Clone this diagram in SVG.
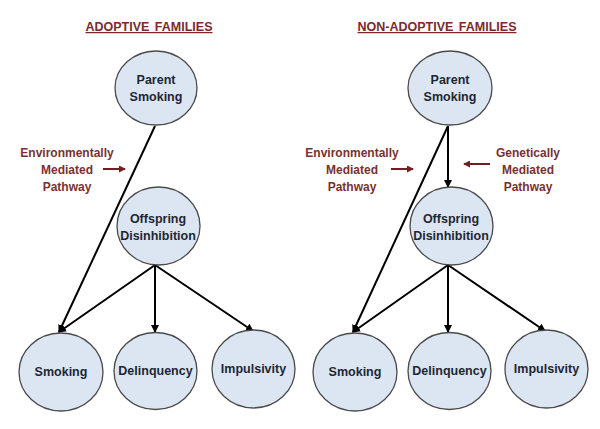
<svg xmlns="http://www.w3.org/2000/svg" width="600" height="429" viewBox="0 0 600 429">
<defs>
<style>
.node ellipse{fill:#dce6f2;stroke:#4a4a4a;stroke-width:1.3}
.node text{font-family:"Liberation Sans",Arial,sans-serif;font-weight:bold;font-size:12.5px;fill:#1e2633;text-anchor:middle}
.title{font-family:"Liberation Sans",Arial,sans-serif;font-weight:bold;font-size:12.5px;fill:#7a2a2a;text-anchor:middle;text-decoration:underline;word-spacing:2px}
.lbl{font-family:"Liberation Sans",Arial,sans-serif;font-weight:bold;font-size:12px;fill:#7a3030;text-anchor:middle}
.conn line{stroke:#000;stroke-width:2;marker-end:url(#ah)}
.red line{stroke:#6e1f1f;stroke-width:2;marker-end:url(#rh)}
</style>
<marker id="ah" markerWidth="8" markerHeight="8" refX="7" refY="4" orient="auto" markerUnits="userSpaceOnUse">
<path d="M0,0 L8,4 L0,8 Z" fill="#000"/>
</marker>
<marker id="rh" markerWidth="7" markerHeight="7" refX="6" refY="3.5" orient="auto" markerUnits="userSpaceOnUse">
<path d="M0,0 L7,3.5 L0,7 Z" fill="#6e1f1f"/>
</marker>
</defs>
<rect width="600" height="429" fill="#fff"/>
<text class="title" x="149" y="31">ADOPTIVE FAMILIES</text>
<text class="title" x="437" y="31">NON-ADOPTIVE FAMILIES</text>

<g class="conn">
<line x1="155" y1="126" x2="59" y2="332"/>
<line x1="155" y1="265" x2="59" y2="332"/>
<line x1="155" y1="265" x2="155" y2="332"/>
<line x1="155" y1="265" x2="253" y2="331"/>
<line x1="448" y1="126" x2="353" y2="332"/>
<line x1="448" y1="126" x2="448" y2="187"/>
<line x1="448" y1="265" x2="353" y2="332"/>
<line x1="448" y1="265" x2="448" y2="332"/>
<line x1="448" y1="265" x2="545" y2="331"/>
</g>
<g class="red">
<line x1="103" y1="169" x2="125" y2="169"/>
<line x1="391" y1="169" x2="413" y2="169"/>
<line x1="490" y1="164" x2="464" y2="164"/>
</g>

<g id="left-labels">
<text class="lbl" x="67" y="157">Environmentally</text>
<text class="lbl" x="67" y="174">Mediated</text>
<text class="lbl" x="67" y="191">Pathway</text>
</g>
<g id="right-env-labels">
<text class="lbl" x="352" y="157">Environmentally</text>
<text class="lbl" x="352" y="174">Mediated</text>
<text class="lbl" x="352" y="191">Pathway</text>
</g>
<g id="right-gen-labels">
<text class="lbl" x="528" y="157">Genetically</text>
<text class="lbl" x="528" y="174">Mediated</text>
<text class="lbl" x="528" y="191">Pathway</text>
</g>

<g id="a-parent" class="node"><ellipse cx="156" cy="88" rx="41" ry="37"/><text x="156" y="84">Parent</text><text x="156" y="101">Smoking</text></g>
<g id="a-offspring" class="node"><ellipse cx="158.5" cy="226" rx="41.5" ry="39"/><text x="158" y="223">Offspring</text><text x="158" y="240">Disinhibition</text></g>
<g id="a-smoking" class="node"><ellipse cx="61" cy="372" rx="42" ry="39"/><text x="61" y="376">Smoking</text></g>
<g id="a-delinquency" class="node"><ellipse cx="155.5" cy="371" rx="41.5" ry="38.5"/><text x="155.5" y="375">Delinquency</text></g>
<g id="a-impulsivity" class="node"><ellipse cx="253.5" cy="369" rx="41.5" ry="39"/><text x="253.5" y="373">Impulsivity</text></g>

<g id="n-parent" class="node"><ellipse cx="450" cy="88" rx="42" ry="37"/><text x="450" y="84">Parent</text><text x="450" y="101">Smoking</text></g>
<g id="n-offspring" class="node"><ellipse cx="451.5" cy="226" rx="41.5" ry="39"/><text x="451" y="223">Offspring</text><text x="451" y="240">Disinhibition</text></g>
<g id="n-smoking" class="node"><ellipse cx="355" cy="372" rx="42" ry="39"/><text x="355" y="376">Smoking</text></g>
<g id="n-delinquency" class="node"><ellipse cx="449.5" cy="371" rx="41.5" ry="38.5"/><text x="449.5" y="375">Delinquency</text></g>
<g id="n-impulsivity" class="node"><ellipse cx="546.5" cy="369" rx="41.5" ry="39"/><text x="546.5" y="373">Impulsivity</text></g>
</svg>
